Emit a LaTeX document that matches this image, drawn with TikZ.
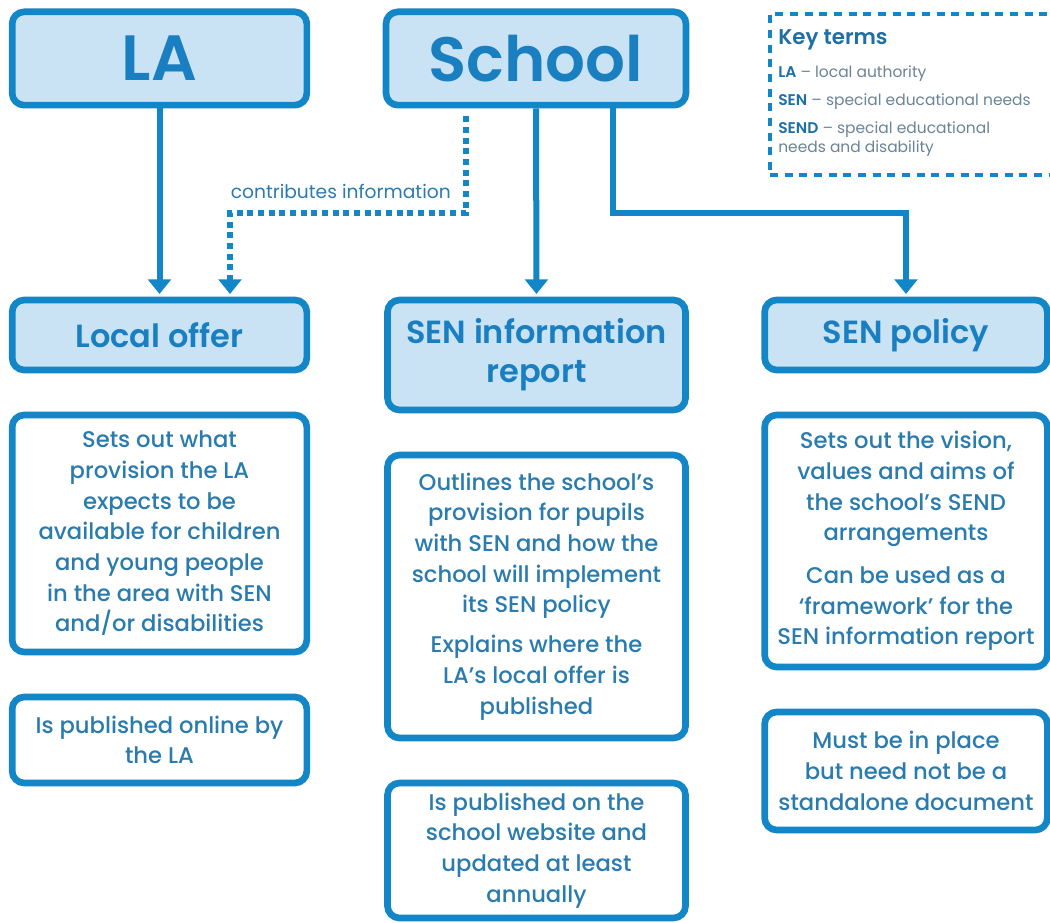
\documentclass[tikz,border=0pt]{standalone}
\usepackage{fontspec}
\setmainfont{Poppins}
\newfontfamily\medfont{Poppins}[UprightFont={* Medium}]
\newfontfamily\titlefont{Poppins}[UprightFont={* SemiBold}]
\usetikzlibrary{arrows.meta}
\definecolor{bord}{HTML}{1286C6}
\definecolor{fillc}{HTML}{C9E3F5}
\definecolor{titlec}{HTML}{1A7FC1}
\definecolor{bodyc}{HTML}{2A7BAE}
\definecolor{keyc}{HTML}{1E6FA6}
\definecolor{keygray}{HTML}{6B8496}
\begin{document}
\begin{tikzpicture}[x=0.75pt,y=-0.75pt,
  box/.style={draw=bord, line width=5pt, rounded corners=9pt, align=center, inner sep=0pt},
  hbox/.style={box, fill=fillc, text=titlec, font=\titlefont\fontsize{24}{29}\selectfont},
  dbox/.style={box, fill=white, text=bodyc, font=\medfont\fontsize{17}{23}\selectfont},
  conn/.style={draw=bord, line width=4.5pt, -{Triangle[width=17pt,length=11pt]}, shorten >=2pt},
  dotconn/.style={conn, dash pattern=on 4.5pt off 3.5pt},
  keytxt/.style={anchor=base west, text=keygray, font=\fontsize{11.6}{13}\selectfont, inner sep=0pt},
]
\useasboundingbox (0,0) rectangle (1050,923);
\fill[white] (0,0) rectangle (1050,923);

% top boxes
\node[hbox, minimum width=221pt, minimum height=70pt, font=\titlefont\fontsize{48}{52}\selectfont] (LA) at (159.5,58.5) {LA};
\node[hbox, minimum width=225pt, minimum height=70pt, font=\titlefont\fontsize{47}{52}\selectfont] (School) at (536,58.5) {School};

% key terms
\node[draw=bord, line width=2.8pt, dash pattern=on 6pt off 5pt, minimum width=225pt, minimum height=121pt, anchor=north west, inner sep=0pt] (key) at (768,12) {};
\node[keytxt, text=keyc, font=\titlefont\fontsize{16}{18}\selectfont] (kt) at (778,45) {Key terms};
\node[keytxt] (k1) at (778,78) {\textcolor{keyc}{\titlefont LA} – local authority};
\node[keytxt] (k2) at (778,106) {\textcolor{keyc}{\titlefont SEN} – special educational needs};
\node[keytxt] (k3) at (778,134) {\textcolor{keyc}{\titlefont SEND} – special educational};
\node[keytxt] (k4) at (778,153) {needs and disability};

% second row headings
\node[hbox, minimum width=221pt, minimum height=52.5pt] (LO) at (159.5,335) {Local offer};
\node[hbox, minimum width=223.5pt, minimum height=82.5pt] (SI) at (536.5,355) {SEN information\\report};
\node[hbox, minimum width=212pt, minimum height=52.5pt] (SP) at (906,335) {SEN policy};

% description boxes
\node[dbox, minimum width=221pt, minimum height=177.75pt] (LOd) at (159.5,533.5) {Sets out what\\provision the LA\\expects to be\\available for children\\and young people\\in the area with SEN\\and/or disabilities};
\node[dbox, minimum width=221pt, minimum height=64.5pt] (LOp) at (159.5,740) {Is published online by\\the LA};

\node[dbox, minimum width=223.5pt, minimum height=212.25pt] (SId) at (536.5,596.5) {Outlines the school’s\\provision for pupils\\with SEN and how the\\school will implement\\its SEN policy\\[7pt]Explains where the\\LA’s local offer is\\published};
\node[dbox, minimum width=223.5pt, minimum height=101.25pt] (SIp) at (536.5,850.5) {Is published on the\\school website and\\updated at least\\annually};

\node[dbox, minimum width=212pt, minimum height=189pt] (SPd) at (906,541) {Sets out the vision,\\values and aims of\\the school’s SEND\\arrangements\\[9pt]Can be used as a\\‘framework’ for the\\SEN information report};
\node[dbox, minimum width=212pt, minimum height=88.5pt] (SPp) at (906,771) {Must be in place\\but need not be a\\standalone document};

% connectors
\draw[conn] (LA.south) -- (LO.north);
\draw[conn] (School.south) -- (SI.north);
\coordinate (r1) at (613,213);
\coordinate (r2) at (906,213);
\draw[conn] (School.south -| r1) -- (r1) -- (r2) -- (SP.north);
\coordinate (d1) at (466,213);
\coordinate (d2) at (230,213);
\draw[dotconn, shorten <=6pt] (School.south -| d1) -- (d1) -- (d2) -- (LO.north -| d2);
\node[anchor=base east, text=bodyc, font=\fontsize{14}{16}\selectfont, inner sep=0pt] (lab) at (451,199) {contributes information};
\end{tikzpicture}
\end{document}
